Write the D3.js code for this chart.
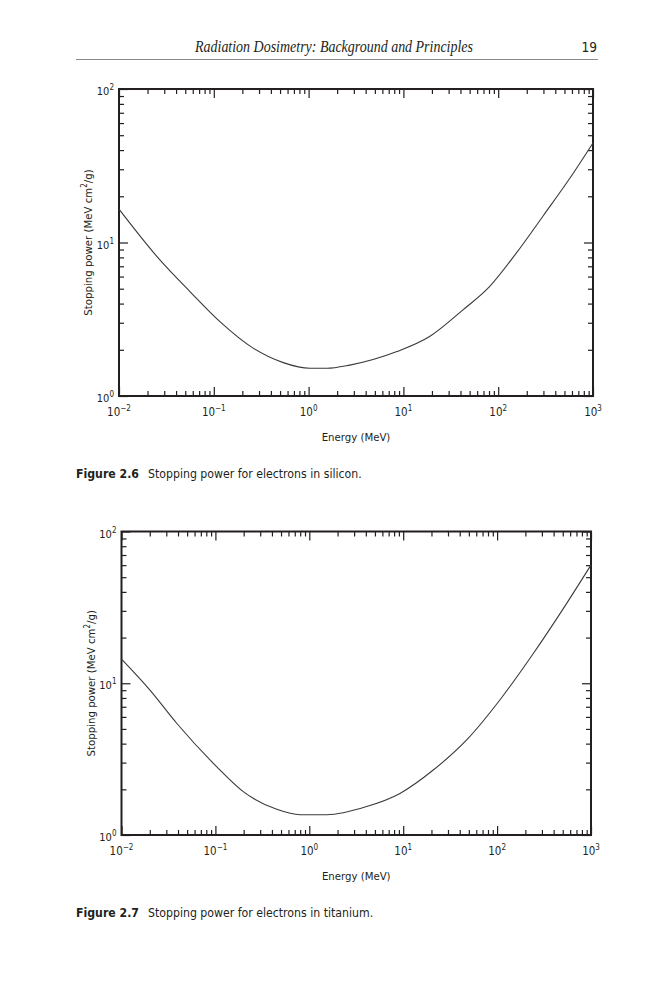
<!DOCTYPE html>
<html>
<head>
<meta charset="utf-8">
<script src="https://cdn.jsdelivr.net/npm/d3@7"></script>
<style>
  body { margin: 0; background: #fff; }
  svg text { font-family: "Liberation Sans Narrow", "DejaVu Sans Condensed", Roboto, sans-serif; fill: #231f20; }
  .tick line { stroke: #231f20; stroke-width: 1.2; }
</style>
</head>
<body>
<svg id="page" width="666" height="1000"></svg>
<script>
// Figure 2.6 - electrons in silicon (energy in MeV, stopping power in MeV cm2/g)
let siliconEnergy = [0.01, 0.027, 0.056, 0.116, 0.26, 0.54, 1.03, 1.55, 2.72, 8.4, 18.9, 42.5, 81, 155, 300, 565, 1000];
let siliconPower  = [16.5, 7.7, 4.79, 3.05, 2.05, 1.65, 1.515, 1.515, 1.59, 1.94, 2.44, 3.64, 5.16, 8.52, 15.0, 26.0, 44.5];

// Figure 2.7 - electrons in titanium
let titaniumEnergy = [0.01, 0.0201, 0.0387, 0.103, 0.198, 0.45, 0.8, 1.53, 4.08, 9.24, 20.9, 47.4, 107, 243, 551, 1000];
let titaniumPower  = [14.4, 9.0, 5.45, 2.82, 1.93, 1.476, 1.36, 1.36, 1.54, 1.88, 2.68, 4.23, 7.76, 15.7, 33.6, 60.1];

// decade labels on both axes
let xLabelPowers = [-2, -1, 0, 1, 2, 3];
let yLabelPowers = [0, 1, 2];

let headerTitle = "Radiation Dosimetry: Background and Principles";
let pageNumber = "19";
let xTitle = "Energy (MeV)";

let svg = d3.select("#page");
let ink = "#231f20";

// running head (squeezed to the width of the condensed book face)
svg.append("text")
  .attr("x", 195).attr("y", 52)
  .attr("textLength", 278)
  .attr("lengthAdjust", "spacingAndGlyphs")
  .style("font-family", "'Liberation Serif', 'DejaVu Serif', serif")
  .style("font-style", "italic")
  .style("font-size", "16px")
  .text(headerTitle);

svg.append("text")
  .attr("x", 597).attr("y", 52)
  .attr("text-anchor", "end")
  .style("font-size", "13.5px")
  .text(pageNumber);

svg.append("line")
  .attr("x1", 76).attr("x2", 598)
  .attr("y1", 59.5).attr("y2", 59.5)
  .attr("stroke", "#8a8a8a").attr("stroke-width", 1);

function isDecade(d) {
  let l = Math.log10(d);
  return Math.abs(l - Math.round(l)) < 1e-9;
}

// a side of the frame: minor ticks short, decade ticks long, all pointing inward
function addTicks(g, axisFn, scale, translate) {
  let all = scale.ticks();
  let minor = all.filter(d => !isDecade(d));
  let major = all.filter(d => isDecade(d));
  [[minor, 5], [major, 9]].forEach(function(pair) {
    let a = g.append("g")
      .attr("transform", translate)
      .call(axisFn(scale).tickValues(pair[0]).tickSize(-pair[1]).tickFormat(""));
    a.select(".domain").remove();
  });
}

function powerLabel(sel, p) {
  sel.append("tspan").text("10");
  sel.append("tspan")
    .attr("dy", -5)
    .style("font-size", "8px")
    .text(p < 0 ? "\u2212" + Math.abs(p) : p);
}

function drawChart(opts) {
  let x = d3.scaleLog().domain([1e-2, 1e3]).range([opts.left, opts.right]);
  let y = d3.scaleLog().domain([1, 100]).range([opts.bottom, opts.top]);
  let g = svg.append("g");

  addTicks(g, d3.axisBottom, x, `translate(0,${opts.bottom})`);
  addTicks(g, d3.axisTop, x, `translate(0,${opts.top})`);
  addTicks(g, d3.axisLeft, y, `translate(${opts.left},0)`);
  addTicks(g, d3.axisRight, y, `translate(${opts.right},0)`);

  g.append("rect")
    .attr("x", opts.left).attr("y", opts.top)
    .attr("width", opts.right - opts.left)
    .attr("height", opts.bottom - opts.top)
    .attr("fill", "none")
    .attr("stroke", ink).attr("stroke-width", 2);

  let line = d3.line()
    .x(d => x(d[0]))
    .y(d => y(d[1]))
    .curve(d3.curveMonotoneX);

  g.append("path")
    .datum(d3.zip(opts.energy, opts.power))
    .attr("d", line)
    .attr("fill", "none")
    .attr("stroke", "#3a3a3a")
    .attr("stroke-width", 1.1);

  // x tick labels
  xLabelPowers.forEach(function(p) {
    let t = g.append("text")
      .attr("x", x(Math.pow(10, p)))
      .attr("y", opts.bottom + 20)
      .attr("text-anchor", "middle")
      .style("font-size", "11.5px");
    powerLabel(t, p);
  });

  // y tick labels
  yLabelPowers.forEach(function(p) {
    let t = g.append("text")
      .attr("x", opts.left - 5)
      .attr("y", y(Math.pow(10, p)) + 6)
      .attr("text-anchor", "end")
      .style("font-size", "11px");
    powerLabel(t, p);
  });

  g.append("text")
    .attr("x", (opts.left + opts.right) / 2)
    .attr("y", opts.bottom + 45)
    .attr("text-anchor", "middle")
    .style("font-size", "11.3px")
    .text(xTitle);

  let yt = g.append("text")
    .attr("transform", `translate(${opts.left - 27},${(opts.top + opts.bottom) / 2}) rotate(-90)`)
    .attr("text-anchor", "middle")
    .style("font-size", "11.3px");
  yt.append("tspan").text("Stopping power (MeV cm");
  yt.append("tspan").attr("dy", -5).style("font-size", "8px").text("2");
  yt.append("tspan").attr("dy", 5).text("/g)");

  let cap = g.append("text")
    .attr("x", 76)
    .attr("y", opts.bottom + 82)
    .style("font-size", "12.2px");
  cap.append("tspan").style("font-weight", "bold").text(opts.figure);
  cap.append("tspan").attr("dx", 9).text(opts.caption);
}

drawChart({
  left: 119, right: 593, top: 89, bottom: 396,
  energy: siliconEnergy, power: siliconPower,
  figure: "Figure 2.6", caption: "Stopping power for electrons in silicon."
});

drawChart({
  left: 121.5, right: 591, top: 531.5, bottom: 835,
  energy: titaniumEnergy, power: titaniumPower,
  figure: "Figure 2.7", caption: "Stopping power for electrons in titanium."
});
</script>
</body>
</html>
